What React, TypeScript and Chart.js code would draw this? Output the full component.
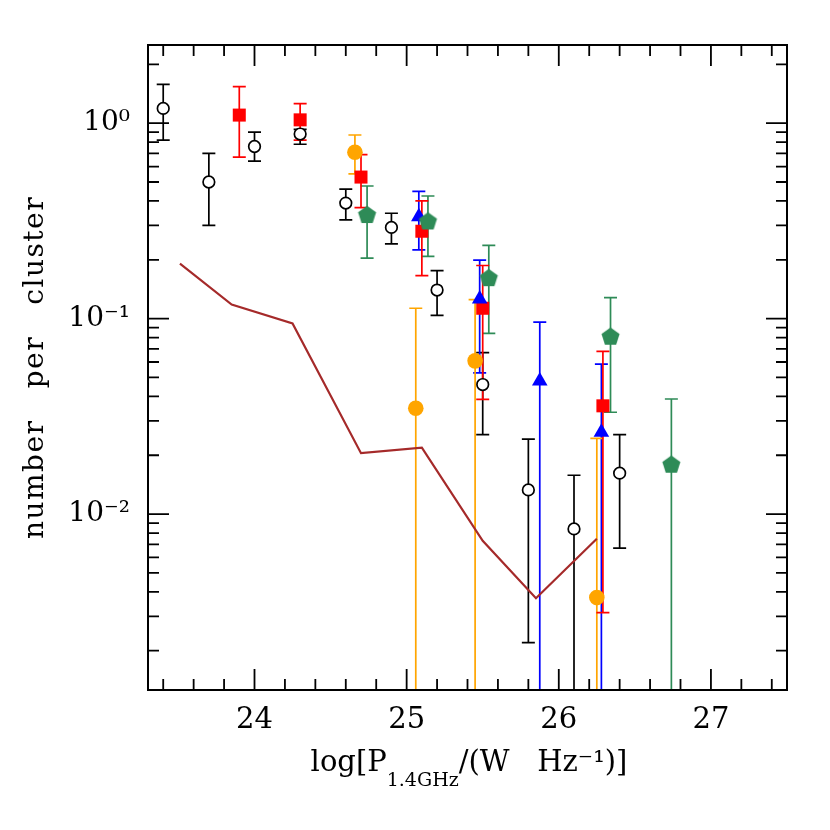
import React, { useEffect, useRef } from 'react';
import { Chart, registerables } from 'chart.js';
Chart.register(...registerables);

// Axis limits
const X_MIN = 23.3;
const X_MAX = 27.5;
const Y_MIN = Math.pow(10, -2.9);
const Y_MAX = Math.pow(10, 0.4);

const xTicks = [24, 25, 26, 27];
const yTicks = [1, 0.1, 0.01];
const yTickLabels = ['10\u2070', '10\u207B\u00B9', '10\u207B\u00B2'];

// Black open circles
const blackX = [23.40, 23.70, 24.00, 24.30, 24.60, 24.90, 25.20, 25.50, 25.80, 26.10, 26.40];
const blackY = [1.19, 0.50, 0.76, 0.88, 0.39, 0.293, 0.140, 0.046, 0.0133, 0.0084, 0.0162];
const blackHi = [1.58, 0.70, 0.90, 0.93, 0.46, 0.346, 0.176, 0.067, 0.0242, 0.0158, 0.0255];
const blackLo = [0.82, 0.30, 0.64, 0.78, 0.32, 0.241, 0.104, 0.0255, 0.0022, 0, 0.0067];

// Red squares
const redX = [23.90, 24.30, 24.70, 25.10, 25.50, 26.29];
const redY = [1.10, 1.04, 0.53, 0.28, 0.113, 0.0358];
const redHi = [1.54, 1.26, 0.69, 0.40, 0.187, 0.068];
const redLo = [0.67, 0.82, 0.37, 0.166, 0.0386, 0.00313];

// Orange filled circles
const orangeX = [24.66, 25.06, 25.45, 26.25];
const orangeY = [0.71, 0.0348, 0.0608, 0.00374];
const orangeHi = [0.87, 0.113, 0.125, 0.0244];
const orangeLo = [0.55, 0, 0, 0];

// Blue triangles
const blueX = [25.08, 25.48, 25.875, 26.28];
const blueY = [0.332, 0.126, 0.048, 0.0262];
const blueHi = [0.448, 0.199, 0.096, 0.0585];
const blueLo = [0.225, 0.0528, 0, 0];

// Green pentagons
const greenX = [24.74, 25.14, 25.54, 26.34, 26.74];
const greenY = [0.341, 0.316, 0.162, 0.0813, 0.0180];
const greenHi = [0.477, 0.424, 0.237, 0.128, 0.0388];
const greenLo = [0.204, 0.208, 0.084, 0.0332, 0];

// Brown line
const brownX = [23.51, 23.85, 24.25, 24.70, 25.10, 25.50, 25.85, 26.25];
const brownY = [0.191, 0.118, 0.0944, 0.0205, 0.0219, 0.0073, 0.00371, 0.00748];

const FONT = '"DejaVu Serif", serif';

function pts(xs: number[], ys: number[]) {
  return xs.map((x, i) => ({ x, y: ys[i] }));
}

function makePentagon(color: string, r: number) {
  const c = document.createElement('canvas');
  const s = Math.ceil(2 * r + 2);
  c.width = s;
  c.height = s;
  const ctx = c.getContext('2d')!;
  ctx.fillStyle = color;
  ctx.beginPath();
  for (let i = 0; i < 5; i++) {
    const a = -Math.PI / 2 + (i * 2 * Math.PI) / 5;
    const px = s / 2 + r * Math.cos(a);
    const py = s / 2 + r * Math.sin(a) + 0.8;
    if (i === 0) ctx.moveTo(px, py);
    else ctx.lineTo(px, py);
  }
  ctx.closePath();
  ctx.fill();
  return c;
}

const errorBars = {
  id: 'errorBars',
  beforeDatasetsDraw(chart: any) {
    const { ctx, chartArea, scales } = chart;
    const xs = scales.x;
    const ys = scales.y;
    ctx.save();
    ctx.beginPath();
    ctx.rect(chartArea.left, chartArea.top, chartArea.right - chartArea.left, chartArea.bottom - chartArea.top);
    ctx.clip();
    const cap = 6.5;
    chart.data.datasets.forEach((ds: any) => {
      if (!ds.errHi) return;
      ctx.strokeStyle = ds.errColor;
      ctx.lineWidth = 1.7;
      ds.data.forEach((p: any, i: number) => {
        const px = xs.getPixelForValue(p.x);
        const hi = ys.getPixelForValue(ds.errHi[i]);
        const hasLo = ds.errLo[i] > 0;
        const lo = hasLo ? ys.getPixelForValue(ds.errLo[i]) : chartArea.bottom + 2;
        ctx.beginPath();
        ctx.moveTo(px, hi);
        ctx.lineTo(px, lo);
        ctx.moveTo(px - cap, hi);
        ctx.lineTo(px + cap, hi);
        if (hasLo) {
          ctx.moveTo(px - cap, lo);
          ctx.lineTo(px + cap, lo);
        }
        ctx.stroke();
      });
    });
    ctx.restore();
  },
};

const frame = {
  id: 'frame',
  afterDraw(chart: any) {
    const { ctx, chartArea, scales } = chart;
    const { left, right, top, bottom } = chartArea;
    const xs = scales.x;
    const ys = scales.y;
    ctx.save();
    ctx.strokeStyle = '#000';
    ctx.lineWidth = 1.8;
    ctx.beginPath();
    for (let k = Math.ceil(X_MIN * 5); k <= Math.floor(X_MAX * 5); k++) {
      const v = k / 5;
      const px = xs.getPixelForValue(v);
      if (px <= left + 1 || px >= right - 1) continue;
      const major = k % 5 === 0;
      const len = major ? 21 : 11;
      ctx.moveTo(px, bottom);
      ctx.lineTo(px, bottom - len);
      ctx.moveTo(px, top);
      ctx.lineTo(px, top + len);
    }
    for (let d = -3; d <= 0; d++) {
      for (let m = 1; m <= 9; m++) {
        const v = m * Math.pow(10, d);
        if (v <= Y_MIN || v >= Y_MAX) continue;
        const py = ys.getPixelForValue(v);
        const len = m === 1 ? 21 : 11;
        ctx.moveTo(left, py);
        ctx.lineTo(left + len, py);
        ctx.moveTo(right, py);
        ctx.lineTo(right - len, py);
      }
    }
    ctx.stroke();
    ctx.lineWidth = 2;
    ctx.strokeRect(left, top, right - left, bottom - top);

    ctx.fillStyle = '#000';
    ctx.textBaseline = 'alphabetic';
    // y title
    ctx.save();
    ctx.translate(43, (top + bottom) / 2);
    ctx.rotate(-Math.PI / 2);
    ctx.font = '28px ' + FONT;
    (ctx as any).letterSpacing = '1.5px';
    ctx.textAlign = 'center';
    ctx.fillText('number   per   cluster', 0, 0);
    ctx.restore();

    // x title with subscript & superscript
    const big = '29px ' + FONT;
    const small = '19px ' + FONT;
    const parts = [
      { t: 'log[P', f: big, dy: 0, gap: 3 },
      { t: '1.4GHz', f: small, dy: 15, gap: 0 },
      { t: '/(W   Hz', f: big, dy: 0, gap: 0 },
      { t: '\u207B\u00B9', f: big, dy: 0, gap: 0 },
      { t: ')]', f: big, dy: 0, gap: 0 },
    ];
    let total = 0;
    const widths = parts.map((p) => {
      ctx.font = p.f;
      const w = ctx.measureText(p.t).width + p.gap;
      total += w;
      return w;
    });
    let cx = (left + right) / 2 - total / 2;
    const base = 771;
    ctx.textAlign = 'left';
    parts.forEach((p, i) => {
      ctx.font = p.f;
      ctx.fillText(p.t, cx + p.gap, base + p.dy);
      cx += widths[i];
    });
    ctx.restore();
  },
};

export default function App() {
  const ref = useRef<HTMLCanvasElement>(null);
  useEffect(() => {
    const pent = makePentagon('#2E8B57', 9.5);
    const chart = new Chart(ref.current!, {
      type: 'scatter',
      data: {
        datasets: [
          {
            label: 'black',
            data: pts(blackX, blackY),
            pointStyle: 'circle',
            pointRadius: 5.8,
            backgroundColor: '#fff',
            borderColor: '#000',
            borderWidth: 1.7,
            errHi: blackHi,
            errLo: blackLo,
            errColor: '#000',
          } as any,
          {
            label: 'green',
            data: pts(greenX, greenY),
            pointStyle: pent,
            errHi: greenHi,
            errLo: greenLo,
            errColor: '#2E8B57',
          } as any,
          {
            label: 'blue',
            data: pts(blueX, blueY),
            pointStyle: 'triangle',
            pointRadius: 9,
            backgroundColor: '#0000FF',
            borderColor: '#0000FF',
            borderWidth: 0,
            errHi: blueHi,
            errLo: blueLo,
            errColor: '#0000FF',
          } as any,
          {
            label: 'orange',
            data: pts(orangeX, orangeY),
            pointStyle: 'circle',
            pointRadius: 7.8,
            backgroundColor: '#FFA500',
            borderColor: '#FFA500',
            borderWidth: 0,
            errHi: orangeHi,
            errLo: orangeLo,
            errColor: '#FFA500',
          } as any,
          {
            label: 'red',
            data: pts(redX, redY),
            pointStyle: 'rect',
            pointRadius: 9.2,
            backgroundColor: '#FF0000',
            borderColor: '#FF0000',
            borderWidth: 0,
            errHi: redHi,
            errLo: redLo,
            errColor: '#FF0000',
          } as any,
          {
            label: 'model',
            type: 'line',
            data: pts(brownX, brownY),
            borderColor: '#A52A2A',
            borderWidth: 2.2,
            pointRadius: 0,
            fill: false,
            tension: 0,
            showLine: true,
          } as any,
        ],
      },
      options: {
        responsive: false,
        animation: false,
        devicePixelRatio: 1,
        layout: { padding: { left: 0, top: 45, right: 43, bottom: 0 } },
        plugins: {
          legend: { display: false },
          tooltip: { enabled: false },
        },
        scales: {
          x: {
            type: 'linear',
            min: X_MIN,
            max: X_MAX,
            grid: { display: false, drawTicks: false },
            border: { display: false },
            afterBuildTicks: (s: any) => {
              s.ticks = xTicks.map((v) => ({ value: v }));
            },
            afterFit: (s: any) => {
              s.height = 140;
            },
            ticks: {
              padding: 13,
              color: '#000',
              font: { family: FONT, size: 29 },
              maxRotation: 0,
              callback: (v: any) => String(v),
            },
          },
          y: {
            type: 'logarithmic',
            min: Y_MIN,
            max: Y_MAX,
            grid: { display: false, drawTicks: false },
            border: { display: false },
            afterBuildTicks: (s: any) => {
              s.ticks = yTicks.map((v) => ({ value: v }));
            },
            afterFit: (s: any) => {
              s.width = 148;
            },
            ticks: {
              padding: 18,
              color: '#000',
              font: { family: FONT, size: 28 },
              callback: (v: any) => {
                const i = yTicks.findIndex((t) => Math.abs(Math.log10(t) - Math.log10(v)) < 1e-6);
                return i >= 0 ? yTickLabels[i] : '';
              },
            },
          },
        },
      },
      plugins: [errorBars, frame],
    } as any);
    return () => chart.destroy();
  }, []);
  return (
    <div style={{ position: 'absolute', left: 0, top: 0, width: 830, height: 830, background: '#fff' }}>
      <canvas ref={ref} width={830} height={830} />
    </div>
  );
}
